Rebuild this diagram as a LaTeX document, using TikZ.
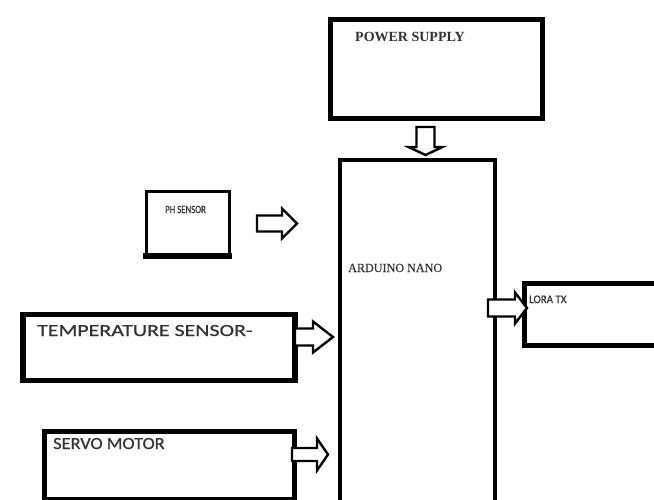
\documentclass[tikz,border=0pt]{standalone}
\usepackage{fontspec}
\usepackage{graphicx}
\setmainfont{Liberation Serif}
\newfontfamily\calfont[FakeBold=0.6]{Carlito}
\newfontfamily\serfont[FakeBold=0.4]{Liberation Serif}
\tikzset{
  box/.style={draw=black, fill=white, rectangle, inner sep=0pt, anchor=north west},
  blk/.style={draw=black, line width=2.4pt, fill=white, line join=miter},
  lab/.style={anchor=base west, inner sep=0pt, text=black!80},
}
% horizontal block arrow: x0, ycenter, length, head length, shaft height, head height
\newcommand{\harr}[6]{\draw[blk] (#1,#2-#5/2) -- (#1+#3-#4,#2-#5/2) -- (#1+#3-#4,#2-#6/2) -- (#1+#3,#2) -- (#1+#3-#4,#2+#6/2) -- (#1+#3-#4,#2+#5/2) -- (#1,#2+#5/2) -- cycle;}
% vertical (down) block arrow: xcenter, y0, length, head length, shaft width, head width
\newcommand{\varr}[6]{\draw[blk] (#1-#5/2,#2) -- (#1-#5/2,#2+#3-#4) -- (#1-#6/2,#2+#3-#4) -- (#1,#2+#3) -- (#1+#6/2,#2+#3-#4) -- (#1+#5/2,#2+#3-#4) -- (#1+#5/2,#2) -- cycle;}
\begin{document}
\begin{tikzpicture}[x=1pt,y=-1pt]
\useasboundingbox[fill=white] (0,0) rectangle (654,499);
% boxes
\node[box, line width=5pt, minimum width=212pt, minimum height=99pt] (ps) at (327.5,16.5) {};
\node[box, line width=4pt, minimum width=155pt, minimum height=380pt] (ard) at (338,158) {};
\node[box, line width=3pt, minimum width=83pt, minimum height=63.5pt] (ph) at (144.5,189.5) {};
\draw[line width=6pt] ([xshift=-1.5pt]ph.south west) -- ([xshift=1.5pt]ph.south east);
\node[box, line width=5.5pt, minimum width=272pt, minimum height=66pt] (temp) at (20,311.5) {};
\node[box, line width=5pt, minimum width=250pt, minimum height=68pt] (servo) at (41.5,428.5) {};
\node[box, line width=5pt, minimum width=200pt, minimum height=62.5pt] (lora) at (522,280.5) {};
% labels
\node[lab, font=\bfseries\fontsize{14}{14}\selectfont] (pst) at (355,41) {POWER SUPPLY};
\node[lab, font=\serfont\fontsize{12.5}{12.5}\selectfont] (ardt) at (348,272) {\scalebox{0.97}[1]{ARDUINO NANO}};
\node[lab, font=\calfont\fontsize{11}{11}\selectfont] (pht) at (165,213) {\scalebox{0.8}[1]{PH SENSOR}};
\node[lab, font=\calfont\fontsize{17}{17}\selectfont] (tempt) at (37,336) {\scalebox{1.29}[1]{TEMPERATURE SENSOR-}};
\node[lab, font=\calfont\fontsize{17}{17}\selectfont] (servot) at (53,449) {\scalebox{1.08}[1]{SERVO MOTOR}};
\node[lab, font=\calfont\fontsize{11.5}{11.5}\selectfont] (lorat) at (529,303) {\scalebox{0.95}[1]{LORA TX}};
% block arrows
\varr{425.5}{127}{28}{8}{18}{34}
\harr{257}{223.5}{40}{15}{16}{30}
\harr{295}{337}{38}{20}{17}{31}
\harr{292}{454.5}{36}{11}{13}{32}
\harr{488}{308}{39}{12}{17}{31}
\end{tikzpicture}
\end{document}
